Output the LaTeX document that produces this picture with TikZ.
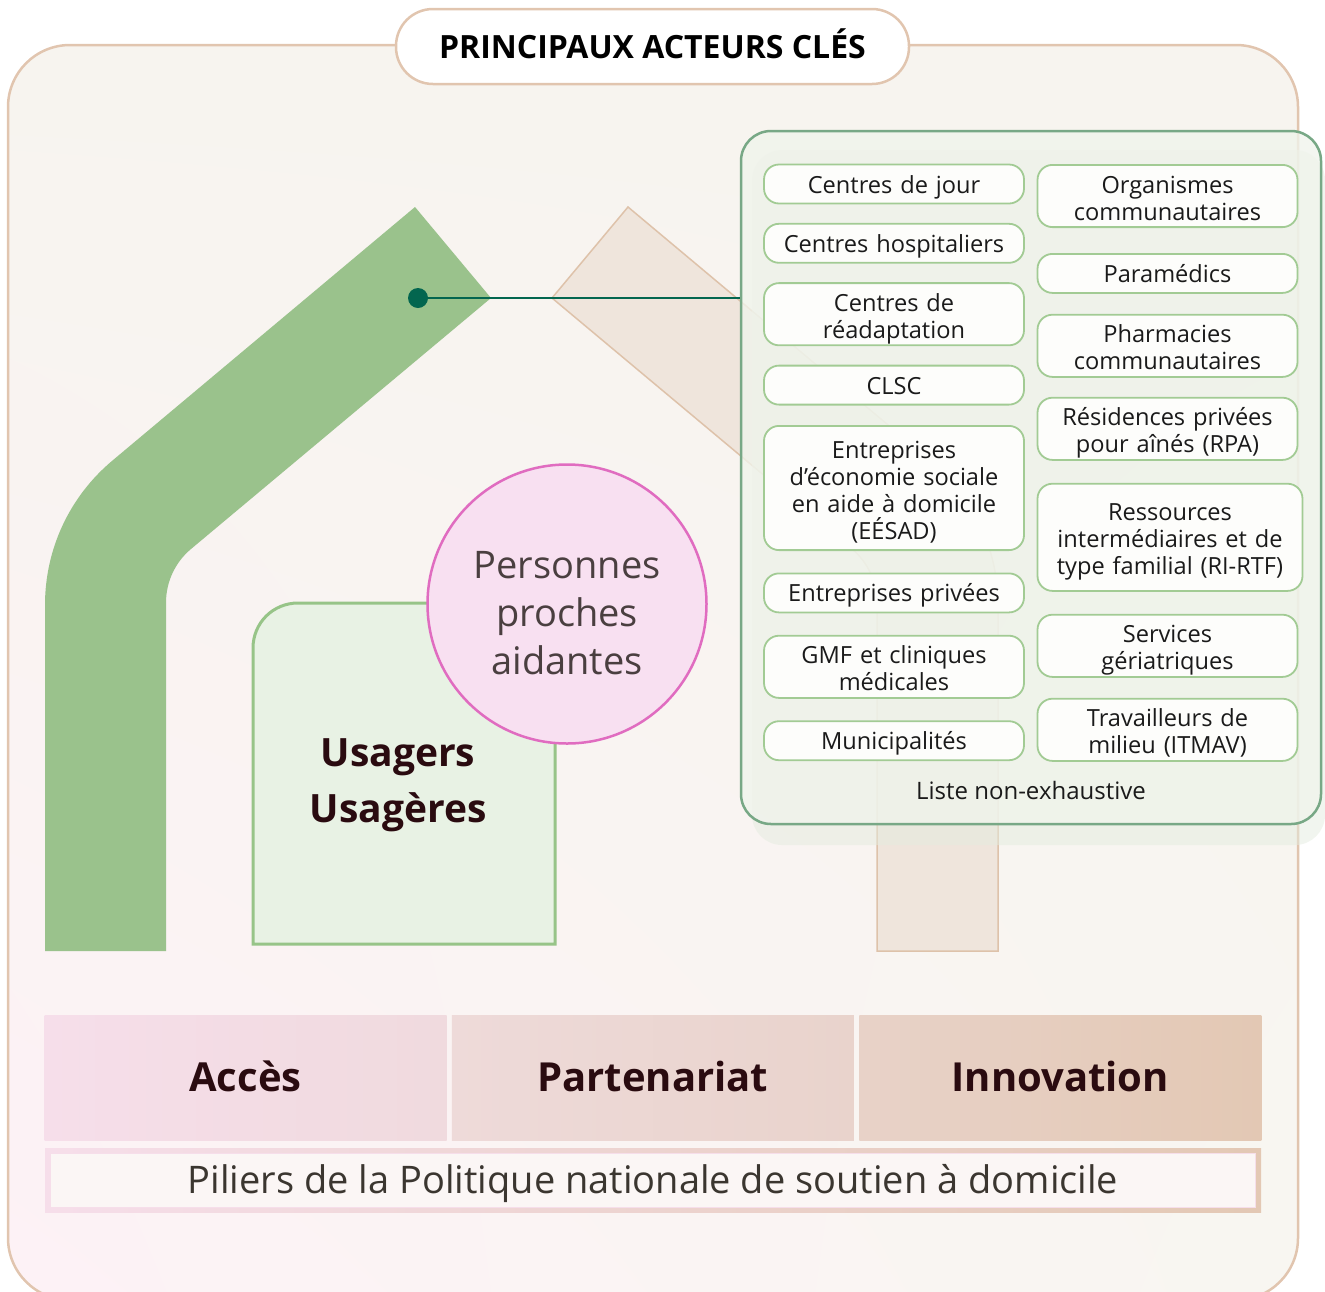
\documentclass[tikz,border=0pt]{standalone}
\usepackage{fontspec}
\setmainfont{Open Sans}
\usepackage{xcolor}
\usepackage{tikz}
\usetikzlibrary{positioning, shadings}

\definecolor{framecream}{HTML}{F7F4EF}
\definecolor{framepink}{HTML}{FDF2F6}
\definecolor{frameright}{HTML}{F8F6F1}
\definecolor{frameline}{HTML}{E1C5AF}
\definecolor{roofgreen}{HTML}{9AC28C}
\definecolor{roofbeige}{HTML}{EFE5DC}
\definecolor{roofline}{HTML}{DEC2AA}
\definecolor{panelline}{HTML}{78A886}
\definecolor{panelfill}{HTML}{F0F4EC}
\definecolor{panelshadow}{HTML}{E4ECDF}
\definecolor{boxline}{HTML}{A2CB94}
\definecolor{boxfill}{HTML}{FDFDFB}
\definecolor{ink}{HTML}{1A1A1A}
\definecolor{linkteal}{HTML}{03664F}
\definecolor{usagerfill}{HTML}{E8F2E4}
\definecolor{usagerline}{HTML}{97C488}
\definecolor{aidantfill}{HTML}{F8E0F1}
\definecolor{aidantline}{HTML}{E06CC0}
\definecolor{aidanttext}{HTML}{4A3F40}
\definecolor{maroon}{HTML}{2A0B10}
\definecolor{accesleft}{HTML}{F6DEEA}
\definecolor{accesright}{HTML}{F0DADE}
\definecolor{partleft}{HTML}{EEDAD9}
\definecolor{partright}{HTML}{E9D3CC}
\definecolor{innovleft}{HTML}{E8D2C8}
\definecolor{innovright}{HTML}{E3C8B4}
\definecolor{basefill}{HTML}{FBF6F5}
\definecolor{basetext}{HTML}{3B3630}

\begin{document}
\begin{tikzpicture}[
    x=1pt, y=-1pt,
    titlepill/.style={rectangle, draw=frameline, fill=white, line width=2.5pt, rounded corners=37pt, minimum width=513pt, minimum height=75pt, text height=23pt, text depth=0pt, font=\bfseries\fontsize{32}{38}\selectfont},
    actorbase/.style={rectangle, draw=boxline, fill=boxfill, line width=1.8pt, rounded corners=15pt, text width=252pt, align=center, minimum width=260pt, inner sep=0pt, font=\fontsize{23.6}{27}\selectfont, text=ink, text height=21pt},
    actor/.style={actorbase, minimum height=39pt, text height=18pt, text depth=0pt},
    actortwo/.style={actorbase, minimum height=62.2pt, text depth=27pt},
    actorthree/.style={actorbase, minimum height=107.2pt, text depth=54pt},
    actorfour/.style={actorbase, minimum height=124.2pt, text depth=81pt},
    panel/.style={rectangle, draw=panelline, fill=panelfill, fill opacity=0.78, line width=2.5pt, rounded corners=30pt, minimum width=580pt, minimum height=693pt},
    aidant/.style={circle, draw=aidantline, fill=aidantfill, line width=2.5pt, minimum size=279pt},
    aidantlabel/.style={align=center, text=aidanttext, font=\fontsize{38}{48}\selectfont},
    pillar/.style={rectangle, minimum width=402pt, minimum height=125pt, inner sep=0pt, text height=28.6pt, text depth=0pt, text=maroon, font=\bfseries\fontsize{40}{48}\selectfont},
    dot/.style={circle, fill=linkteal, minimum size=20pt, inner sep=0pt},
    link/.style={draw=linkteal, line width=2.5pt},
]
\useasboundingbox (0,0) rectangle (1325,1291);

% Frame
\shade[upper left=framecream, upper right=framecream, lower left=framepink, lower right=frameright, rounded corners=62pt] (8,45) rectangle (1298,1300);
\draw[frameline, line width=2.5pt, rounded corners=62pt] (8,45) rectangle (1298,1300);
\node[titlepill] (title) at (652.5,46.5) {PRINCIPAUX ACTEURS CLÉS};

% Roof bands
\filldraw[fill=roofbeige, draw=roofline, line width=1.5pt] (998,951) -- (998,605) .. controls (998,549) and (973.5,496.5) .. (930.5,460.5) -- (628,207) -- (552,298) -- (852,549) .. controls (867.9,562.3) and (877,582) .. (877,602.6) -- (877,951) -- cycle;
\fill[roofgreen] (45,951) -- (45,605) .. controls (45,549) and (69.5,496.5) .. (112.5,460.5) -- (415,207) -- (491,298) -- (191,549) .. controls (175.1,562.3) and (166,582) .. (166,602.6) -- (166,951) -- cycle;

% Actors
\fill[panelshadow, rounded corners=30pt, opacity=0.5] (752,150) rectangle (1325,845);
\node[panel] (panel) at (1031,477.5) {};

\node[actor] (jour) at (894,184) {Centres de jour};
\node[actor, below=18.5pt of jour] (hopital) {Centres hospitaliers};
\node[actortwo, below=18.5pt of hopital] (readapt) {Centres de\\réadaptation};
\node[actor, below=18.5pt of readapt] (clsc) {CLSC};
\node[actorfour, below=19.5pt of clsc] (eesad) {Entreprises\\d’économie sociale\\en aide à domicile\\(EÉSAD)};
\node[actor, below=21.5pt of eesad] (privees) {Entreprises privées};
\node[actortwo, below=21.5pt of privees] (gmf) {GMF et cliniques\\médicales};
\node[actor, below=21.5pt of gmf] (munic) {Municipalités};

\node[actortwo] (orgcom) at (1167.5,196) {Organismes\\communautaires};
\node[actor, below=25pt of orgcom] (parame) {Paramédics};
\node[actortwo, below=20pt of parame] (pharma) {Pharmacies\\communautaires};
\node[actortwo, below=19pt of pharma] (rpa) {Résidences privées\\pour aînés (RPA)};
\node[actorthree, below=22pt of rpa.south west, anchor=north west, minimum width=265pt, text width=258pt] (rirtf) {Ressources\\intermédiaires et de\\type familial (RI-RTF)};
\node[actortwo, below=22pt of rirtf.south west, anchor=north west] (geria) {Services\\gériatriques};
\node[actortwo, below=20pt of geria] (itmav) {Travailleurs de\\milieu (ITMAV)};

\node[font=\fontsize{24}{27}\selectfont, text=ink] (liste) at (1031,790) {Liste non-exhaustive};

% Usagers
\filldraw[fill=usagerfill, draw=usagerline, line width=3pt] (253,944) -- (253,648) .. controls (253,623) and (273,603) .. (298,603) -- (555,603) -- (555,944) -- cycle;
\node[font=\bfseries\fontsize{39}{56}\selectfont, text=maroon, align=center] (usagers) at (398,785) {Usagers\\Usagères};
\node[aidant] (aidants) at (567,604) {};
\node[aidantlabel] (aidantstext) at ([yshift=-9pt]aidants.center) {Personnes\\proches\\aidantes};

% Link
\node[dot] (dot) at (418,298) {};
\draw[link] (dot) -- (dot -| panel.west);

% Pillars
\node[pillar, left color=accesleft, right color=accesright] (acces) at (245.5,1077.5) {Accès};
\node[pillar, right=5pt of acces, left color=partleft, right color=partright] (partenariat) {Partenariat};
\node[pillar, right=5pt of partenariat, left color=innovleft, right color=innovright] (innovation) {Innovation};

\node[rectangle, minimum width=1216pt, minimum height=64pt, left color=accesleft, right color=innovright] (basebar) at (653,1180) {};
\node[rectangle, draw=accesleft, fill=basefill, line width=1pt, minimum width=1205pt, minimum height=54pt, text height=27pt, text depth=0pt, text=basetext, font=\fontsize{38}{42}\selectfont] (piliers) at (basebar) {Piliers de la Politique nationale de soutien à domicile};

\end{tikzpicture}
\end{document}
